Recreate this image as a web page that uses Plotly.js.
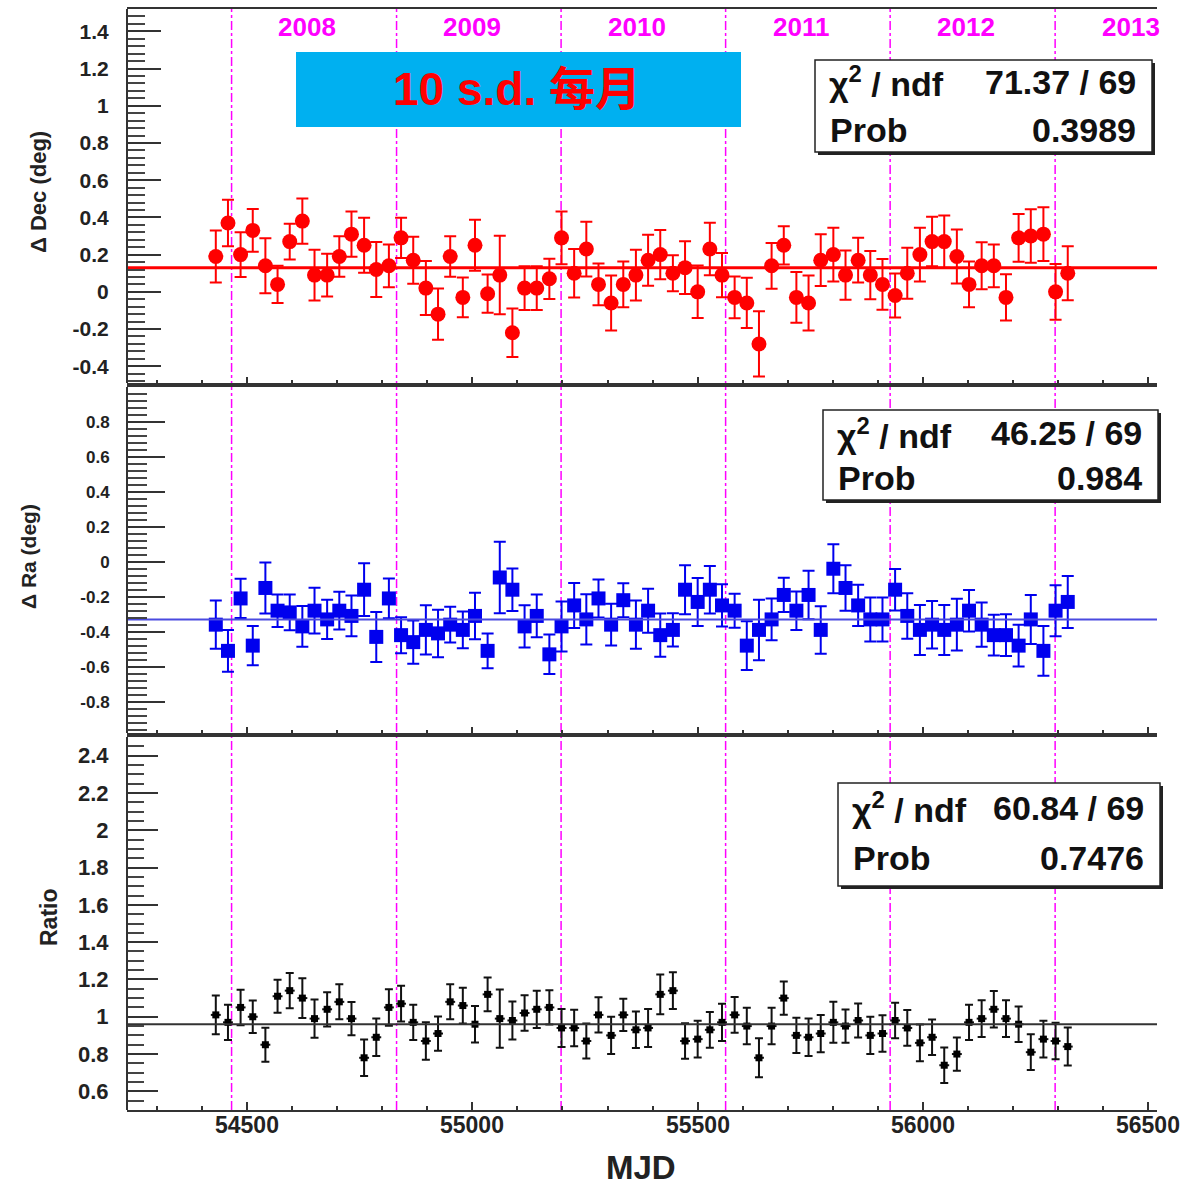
<!DOCTYPE html>
<html><head><meta charset="utf-8">
<script src="https://cdn.plot.ly/plotly-3.0.1.min.js"></script>
<style>html,body{margin:0;padding:0;background:#fff}#chart{width:1201px;height:1187px}</style>
</head><body><div id="chart"></div><script>
// ---------------- data ----------------
const mjd = [54431,54458,54486,54513,54541,54568,54595,54623,54650,54678,
  54705,54732,54760,54787,54815,54842,54869,54897,54924,54951,
  54979,55006,55034,55061,55089,55116,55143,55171,55198,55226,
  55253,55280,55308,55335,55363,55390,55417,55445,55472,55500,
  55527,55554,55582,55609,55636,55664,55691,55719,55746,55773,
  55801,55828,55856,55883,55910,55938,55965,55993,56020,56047,
  56075,56102,56130,56157,56184,56212,56239,56267,56294,56321];

const dDec = [0.19,0.37,0.20,0.33,0.14,0.04,0.27,0.38,0.09,0.09,
  0.19,0.31,0.25,0.12,0.14,0.29,0.17,0.02,-0.12,0.19,
  -0.03,0.25,-0.01,0.09,-0.22,0.02,0.02,0.07,0.29,0.10,
  0.23,0.04,-0.06,0.04,0.09,0.17,0.20,0.10,0.13,0.00,
  0.23,0.09,-0.03,-0.06,-0.28,0.14,0.25,-0.03,-0.06,0.17,
  0.20,0.09,0.17,0.09,0.04,-0.02,0.10,0.20,0.27,0.27,
  0.19,0.04,0.14,0.14,-0.03,0.29,0.30,0.31,0.00,0.10];
const dDecErr = [0.14,0.125,0.12,0.115,0.148,0.10,0.096,0.122,0.136,0.115,
  0.109,0.122,0.148,0.148,0.115,0.108,0.126,0.145,0.138,0.109,
  0.107,0.137,0.103,0.211,0.13,0.118,0.118,0.108,0.142,0.13,
  0.147,0.112,0.148,0.123,0.136,0.137,0.132,0.097,0.142,0.141,
  0.141,0.119,0.112,0.135,0.175,0.123,0.103,0.136,0.148,0.139,
  0.144,0.132,0.12,0.13,0.137,0.118,0.137,0.144,0.133,0.14,
  0.145,0.123,0.126,0.115,0.124,0.128,0.144,0.144,0.15,0.145];

const dRa = [-0.36,-0.51,-0.21,-0.48,-0.15,-0.28,-0.29,-0.37,-0.28,-0.33,
  -0.28,-0.31,-0.16,-0.43,-0.21,-0.42,-0.46,-0.39,-0.41,-0.36,
  -0.39,-0.31,-0.51,-0.09,-0.16,-0.37,-0.31,-0.53,-0.37,-0.25,
  -0.33,-0.21,-0.36,-0.22,-0.36,-0.28,-0.42,-0.39,-0.16,-0.23,
  -0.16,-0.25,-0.28,-0.48,-0.39,-0.33,-0.19,-0.28,-0.19,-0.39,
  -0.04,-0.15,-0.25,-0.33,-0.33,-0.16,-0.31,-0.39,-0.36,-0.39,
  -0.36,-0.28,-0.36,-0.42,-0.42,-0.48,-0.33,-0.51,-0.28,-0.23];
const dRaErr = [0.138,0.119,0.112,0.112,0.146,0.093,0.102,0.117,0.131,0.112,
  0.108,0.117,0.151,0.143,0.114,0.103,0.124,0.141,0.136,0.102,
  0.105,0.133,0.10,0.205,0.122,0.121,0.122,0.113,0.143,0.129,
  0.144,0.109,0.119,0.097,0.138,0.126,0.124,0.095,0.14,0.137,
  0.136,0.121,0.097,0.14,0.173,0.119,0.098,0.11,0.139,0.136,
  0.14,0.13,0.118,0.126,0.126,0.119,0.13,0.143,0.136,0.143,
  0.148,0.119,0.127,0.117,0.119,0.119,0.14,0.143,0.146,0.149];

const ratio = [1.01,0.97,1.05,1.00,0.85,1.11,1.14,1.10,0.99,1.04,
  1.08,0.99,0.78,0.89,1.05,1.07,0.97,0.87,0.91,1.08,
  1.06,0.96,1.12,0.99,0.98,1.02,1.04,1.05,0.94,0.94,
  0.87,1.01,0.90,1.01,0.93,0.94,1.12,1.14,0.87,0.88,
  0.93,0.97,1.01,0.95,0.78,0.95,1.10,0.90,0.89,0.91,
  0.97,0.95,0.98,0.90,0.91,0.98,0.94,0.86,0.89,0.74,
  0.80,0.97,0.99,1.04,0.99,0.96,0.81,0.88,0.87,0.84];
const ratioErr = [0.104,0.095,0.095,0.087,0.091,0.088,0.094,0.107,0.103,0.092,
  0.094,0.089,0.098,0.10,0.098,0.096,0.095,0.10,0.092,0.094,
  0.096,0.098,0.091,0.156,0.102,0.095,0.10,0.092,0.102,0.098,
  0.094,0.095,0.10,0.087,0.098,0.102,0.107,0.098,0.095,0.098,
  0.096,0.10,0.096,0.098,0.105,0.098,0.089,0.095,0.10,0.10,
  0.11,0.089,0.091,0.10,0.098,0.095,0.096,0.098,0.095,0.095,
  0.089,0.094,0.098,0.098,0.098,0.095,0.096,0.098,0.098,0.102];

const fitDec = 0.13, fitRa = -0.33, fitRatio = 0.96;
const statChi2 = ['71.37 / 69', '46.25 / 69', '60.84 / 69'];
const statProb = ['0.3989', '0.984', '0.7476'];

const yearStart = [54466, 54832, 55197, 55562, 55927, 56293];
const yearLabels = ['2008', '2009', '2010', '2011', '2012', '2013'];

const xTickVals = [54500, 55000, 55500, 56000, 56500];
const decTicks = [-0.4,-0.2,0,0.2,0.4,0.6,0.8,1,1.2,1.4];
const raTicks = [-0.8,-0.6,-0.4,-0.2,0,0.2,0.4,0.6,0.8];
const ratioTicks = [0.6,0.8,1,1.2,1.4,1.6,1.8,2,2.2,2.4];

const bannerText = '10 s.d. 每月';

// ---------------- layout helpers ----------------
const W = 1201, H = 1187, L = 127, R = 44, T = 9, B = 77;
const PW = W - L - R, PH = H - T - B;
const px = x => (x - L) / PW;
const py = y => (H - B - y) / PH;
const FONT = 'Liberation Sans, Arial, Helvetica, sans-serif';
const XR = [54234, 56519];

function yAxis(range, domain, ticks, fs, minorD, majLen, minLen) {
  return {
    range: range, domain: domain, anchor: 'free', position: 0,
    tickmode: 'array', tickvals: ticks, ticktext: ticks.map(v => String(v)),
    ticks: 'inside', ticklen: majLen, tickwidth: 2, tickcolor: '#333',
    minor: {tickmode: 'linear', tick0: 0, dtick: minorD, ticks: 'inside', ticklen: minLen, tickwidth: 2, tickcolor: '#444', showgrid: false},
    tickfont: {family: FONT, size: fs, color: '#222', weight: 'bold'},
    ticklabelstandoff: 13,
    showline: true, mirror: true, linecolor: '#333', linewidth: 2,
    showgrid: false, zeroline: false, fixedrange: true
  };
}
function xAxisTop(anchor) {
  return {
    matches: 'x', anchor: anchor, range: XR, showticklabels: false,
    tickmode: 'array', tickvals: xTickVals, ticks: 'inside', ticklen: 6, tickwidth: 2, tickcolor: '#333',
    minor: {dtick: 100, ticks: 'inside', ticklen: 3, tickwidth: 2, tickcolor: '#333', showgrid: false},
    showline: true, mirror: true, linecolor: '#333', linewidth: 2, showgrid: false, zeroline: false
  };
}

const traces = [
  {x: mjd, y: dDec, xaxis: 'x2', yaxis: 'y', type: 'scatter', mode: 'markers',
   marker: {symbol: 'circle', size: 15, color: '#ff0000'},
   error_y: {type: 'data', array: dDecErr, visible: true, color: '#ff0000', thickness: 2, width: 6}},
  {x: XR, y: [fitDec, fitDec], xaxis: 'x2', yaxis: 'y', type: 'scatter', mode: 'lines',
   line: {color: '#ff0000', width: 3}},
  {x: mjd, y: dRa, xaxis: 'x3', yaxis: 'y2', type: 'scatter', mode: 'markers',
   marker: {symbol: 'square', size: 14, color: '#0000ee'},
   error_y: {type: 'data', array: dRaErr, visible: true, color: '#0000ee', thickness: 2, width: 6}},
  {x: XR, y: [fitRa, fitRa], xaxis: 'x3', yaxis: 'y2', type: 'scatter', mode: 'lines',
   line: {color: '#4a4ae0', width: 2}},
  {x: mjd, y: ratio, xaxis: 'x', yaxis: 'y3', type: 'scatter', mode: 'markers',
   marker: {symbol: 'square', size: 7, color: '#000'},
   error_y: {type: 'data', array: ratioErr, visible: true, color: '#111', thickness: 2, width: 4},
   error_x: {type: 'constant', value: 11, visible: true, color: '#111', thickness: 2, width: 0}},
  {x: XR, y: [fitRatio, fitRatio], xaxis: 'x', yaxis: 'y3', type: 'scatter', mode: 'lines',
   line: {color: '#333', width: 2}}
];

const shapes = [];
const annotations = [];

// year boundaries
yearStart.forEach(m => {
  shapes.push({type: 'line', xref: 'x', yref: 'paper', x0: m, x1: m, y0: 0, y1: 1,
    line: {color: '#ff00ff', width: 1.5, dash: 'dashdot'}, layer: 'below'});
});
yearStart.forEach((m, i) => {
  annotations.push({xref: 'x', yref: 'paper', x: m + 168, y: py(27), text: yearLabels[i],
    showarrow: false, xanchor: 'center', yanchor: 'middle',
    font: {family: FONT, size: 26, color: '#ff00ff', weight: 'bold'}});
});

// x tick labels (placed just under the frame, as in the reference)
xTickVals.forEach(v => {
  annotations.push({xref: 'x', yref: 'paper', x: v, y: py(1125), text: String(v),
    showarrow: false, xanchor: 'center', yanchor: 'middle',
    font: {family: FONT, size: 23, color: '#222', weight: 'bold'}});
});

// banner
shapes.push({type: 'rect', xref: 'paper', yref: 'paper', x0: px(296), x1: px(741), y0: py(127), y1: py(52),
  fillcolor: '#00b0f0', line: {width: 0}, layer: 'above'});
annotations.push({xref: 'paper', yref: 'paper', x: px(517), y: py(89), text: bannerText, showarrow: false,
  xanchor: 'center', yanchor: 'middle',
  font: {family: 'Liberation Sans, Noto Sans CJK SC, sans-serif', size: 46, color: '#ff0000', weight: 'bold'}});

// stat boxes
const boxes = [
  {l: 815, r: 1152, t: 60, b: 152, r1: 82, r2: 130},
  {l: 823, r: 1158, t: 410, b: 500, r1: 433, r2: 478},
  {l: 838, r: 1160, t: 783, b: 886, r1: 808, r2: 858}
];
boxes.forEach((bx, i) => {
  shapes.push({type: 'rect', xref: 'paper', yref: 'paper', x0: px(bx.l + 3), x1: px(bx.r + 3), y0: py(bx.b + 3), y1: py(bx.t + 3),
    fillcolor: '#222', line: {width: 0}, layer: 'above'});
  shapes.push({type: 'rect', xref: 'paper', yref: 'paper', x0: px(bx.l), x1: px(bx.r), y0: py(bx.b), y1: py(bx.t),
    fillcolor: '#fff', line: {color: '#222', width: 1.5}, layer: 'above'});
  const f = {family: FONT, size: 34, color: '#111', weight: 'bold'};
  annotations.push({xref: 'paper', yref: 'paper', x: px(bx.l + 12), y: py(bx.r1), text: 'χ<sup>2</sup> / ndf',
    showarrow: false, xanchor: 'left', yanchor: 'middle', font: f});
  annotations.push({xref: 'paper', yref: 'paper', x: px(bx.r - 14), y: py(bx.r1), text: statChi2[i],
    showarrow: false, xanchor: 'right', yanchor: 'middle', font: f});
  annotations.push({xref: 'paper', yref: 'paper', x: px(bx.l + 13), y: py(bx.r2), text: 'Prob',
    showarrow: false, xanchor: 'left', yanchor: 'middle', font: f});
  annotations.push({xref: 'paper', yref: 'paper', x: px(bx.r - 14), y: py(bx.r2), text: statProb[i],
    showarrow: false, xanchor: 'right', yanchor: 'middle', font: f});
});

// axis titles
const titleFont = s => ({family: FONT, size: s, color: '#222', weight: 'bold'});
annotations.push({xref: 'paper', yref: 'paper', x: px(38), y: py(192), text: 'Δ Dec (deg)', textangle: -90,
  showarrow: false, xanchor: 'center', yanchor: 'middle', font: titleFont(22)});
annotations.push({xref: 'paper', yref: 'paper', x: px(28), y: py(557), text: 'Δ Ra (deg)', textangle: -90,
  showarrow: false, xanchor: 'center', yanchor: 'middle', font: titleFont(21)});
annotations.push({xref: 'paper', yref: 'paper', x: px(49), y: py(917), text: 'Ratio', textangle: -90,
  showarrow: false, xanchor: 'center', yanchor: 'middle', font: titleFont(23)});
annotations.push({xref: 'paper', yref: 'paper', x: px(641), y: py(1167), text: 'MJD',
  showarrow: false, xanchor: 'center', yanchor: 'middle', font: titleFont(33)});

const layout = {
  width: W, height: H, margin: {l: L, r: R, t: T, b: B},
  paper_bgcolor: '#fff', plot_bgcolor: '#fff', showlegend: false,
  xaxis: {
    anchor: 'y3', domain: [0, 1], range: XR,
    tickmode: 'array', tickvals: xTickVals, showticklabels: false,
    ticks: 'inside', ticklen: 8, tickwidth: 2, tickcolor: '#333',
    minor: {dtick: 100, ticks: 'inside', ticklen: 4, tickwidth: 2, tickcolor: '#333', showgrid: false},
    showline: true, mirror: true, linecolor: '#333', linewidth: 2, showgrid: false, zeroline: false
  },
  xaxis2: xAxisTop('y'),
  xaxis3: xAxisTop('y2'),
  yaxis: yAxis([-0.49, 1.52], [py(383), py(9)], decTicks, 21, 0.04, 33, 17),
  yaxis2: yAxis([-0.98, 1.0], [py(733), py(387)], raTicks, 17, 0.04, 37, 19),
  yaxis3: yAxis([0.5, 2.5], [0, py(737)], ratioTicks, 22, 0.05, 30, 16),
  shapes: shapes, annotations: annotations
};

Plotly.newPlot('chart', traces, layout, {staticPlot: true, displayModeBar: false});
</script></body></html>
